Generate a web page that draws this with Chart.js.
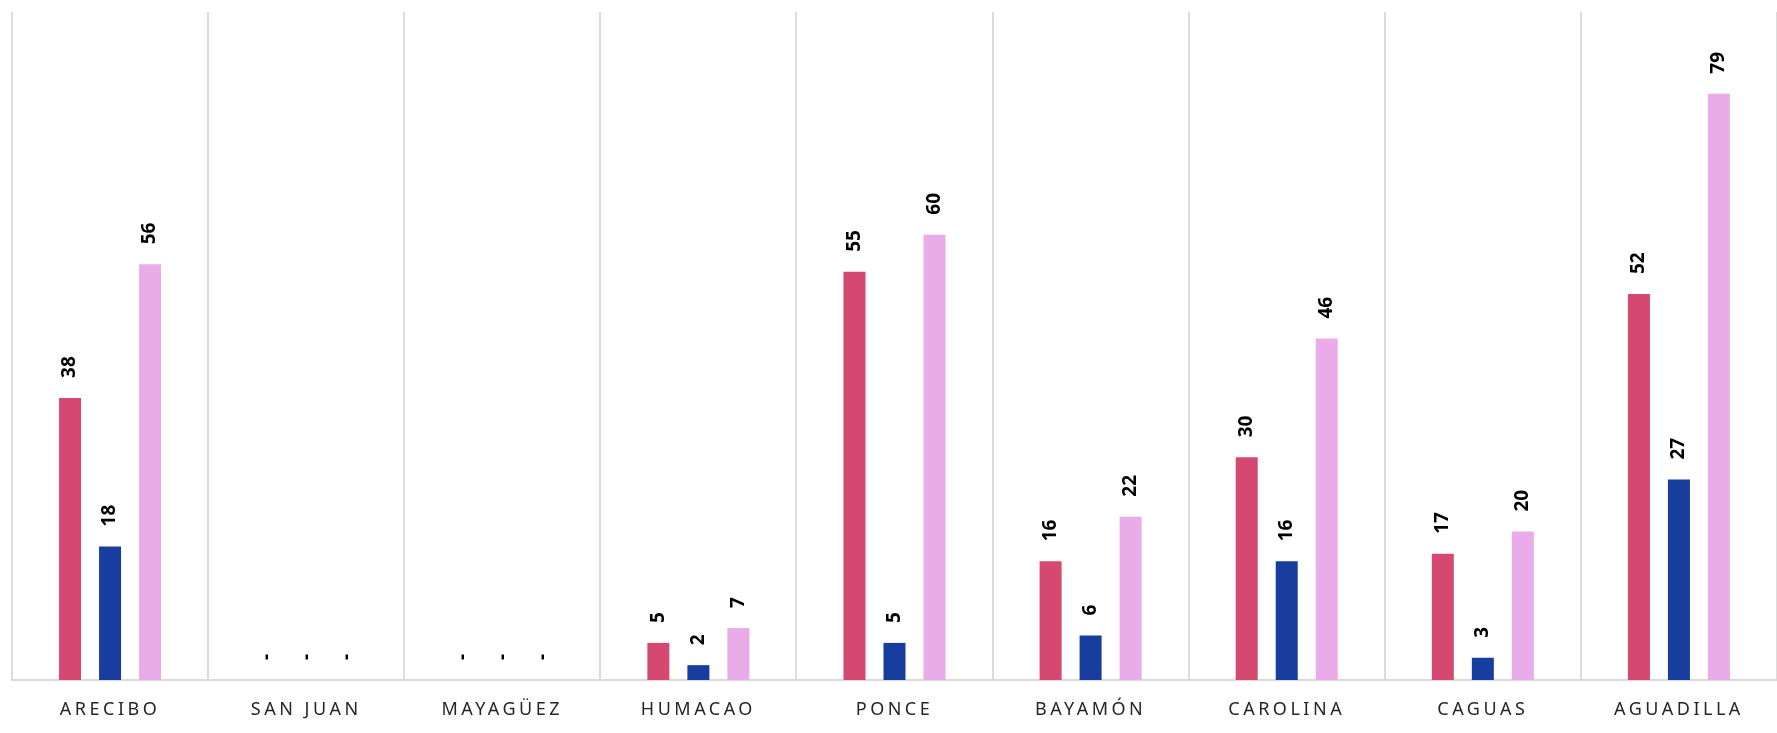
<!DOCTYPE html>
<html>
<head>
<meta charset="utf-8">
<script src="https://cdn.jsdelivr.net/npm/chart.js@4"></script>
<style>
  body { margin: 0; background: #fff; }
</style>
</head>
<body>
<canvas id="myChart" width="1777" height="733"></canvas>
<script>
const regions = ['ARECIBO', 'SAN JUAN', 'MAYAGÜEZ', 'HUMACAO', 'PONCE', 'BAYAMÓN', 'CAROLINA', 'CAGUAS', 'AGUADILLA'];
const series1 = [38, 0, 0, 5, 55, 16, 30, 17, 52];
const series2 = [18, 0, 0, 2, 5, 6, 16, 3, 27];
const series3 = [56, 0, 0, 7, 60, 22, 46, 20, 79];

// letter spaced axis labels, reset before bars are drawn
const spacing = {
    id: 'spacing',
    beforeDraw(chart) {
        chart.ctx.letterSpacing = '3.5px';
    },
    beforeDatasetsDraw(chart) {
        chart.ctx.letterSpacing = '0px';
    }
};

// rotated value labels above each bar, zeros shown as "-"
const barLabels = {
    id: 'barLabels',
    afterDatasetsDraw(chart) {
        const ctx = chart.ctx;
        ctx.save();
        ctx.font = 'bold 19px "Noto Sans"';
        ctx.fillStyle = '#000';
        ctx.textAlign = 'left';
        ctx.textBaseline = 'middle';
        chart.data.datasets.forEach((ds, i) => {
            chart.getDatasetMeta(i).data.forEach((bar, j) => {
                const v = ds.data[j];
                ctx.save();
                ctx.translate(bar.x, bar.y - 20);
                ctx.rotate(-Math.PI / 2);
                ctx.fillText(v === 0 ? '-' : String(v), 0, 0);
                ctx.restore();
            });
        });
        ctx.restore();
    }
};

const ctx = document.getElementById('myChart').getContext('2d');
let myChart = new Chart(ctx, {
    type: 'bar',
    data: {
        labels: regions,
        datasets: [{
            label: 'Serie 1',
            data: series1,
            backgroundColor: '#D54870'
        }, {
            label: 'Serie 2',
            data: series2,
            backgroundColor: '#173D9F'
        }, {
            label: 'Serie 3',
            data: series3,
            backgroundColor: '#E9ACE8'
        }]
    },
    options: {
        responsive: false,
        animation: false,
        categoryPercentage: 0.612,
        barPercentage: 0.55,
        layout: {
            padding: { left: 12, top: 12, right: 0, bottom: 12 }
        },
        plugins: {
            legend: { display: false },
            tooltip: { enabled: false }
        },
        scales: {
            x: {
                afterFit: (scale) => { scale.height = 41; },
                grid: {
                    color: '#dcdcdc',
                    lineWidth: 2,
                    drawTicks: false
                },
                border: { color: '#d9d9d9', width: 2 },
                ticks: {
                    autoSkip: false,
                    maxRotation: 0,
                    padding: 19,
                    color: '#262626',
                    font: { family: '"Noto Sans"', size: 18 }
                }
            },
            y: {
                display: false,
                min: 0,
                max: 90
            }
        }
    },
    plugins: [spacing, barLabels]
});
</script>
</body>
</html>
